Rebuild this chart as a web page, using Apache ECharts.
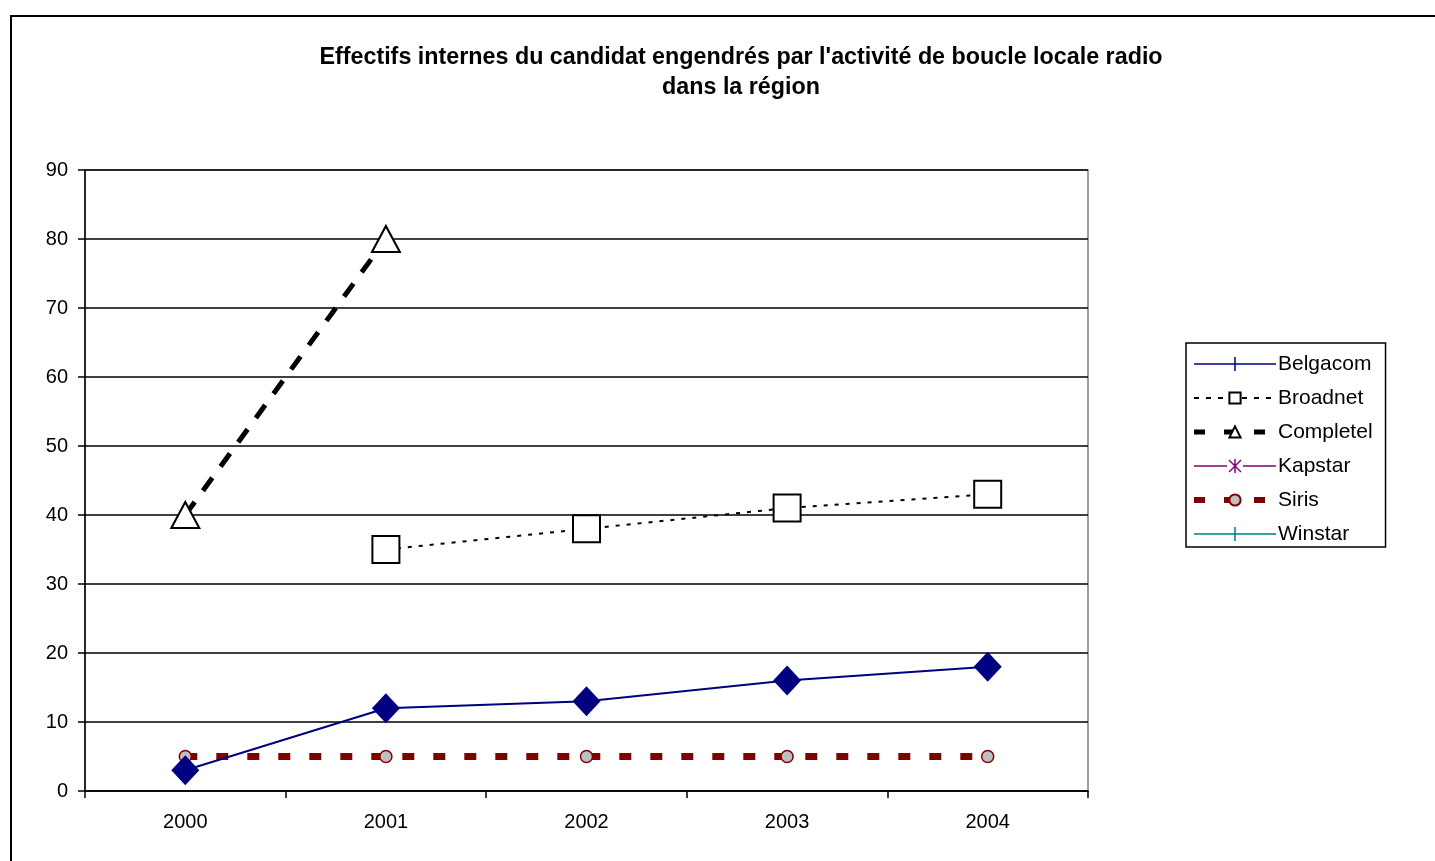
<!DOCTYPE html>
<html><head><meta charset="utf-8">
<script src="https://cdn.jsdelivr.net/npm/echarts@6/dist/echarts.min.js"></script>
<style>
html,body{margin:0;padding:0;background:#fff;overflow:hidden;}
#frame{position:absolute;left:10px;top:15px;width:1440px;height:860px;border:2px solid #000;box-sizing:border-box;}
#chart{position:absolute;left:0;top:0;width:1435px;height:861px;}
</style></head>
<body>
<div id="frame"></div>
<div id="chart"></div>
<script>
const categories = ['2000', '2001', '2002', '2003', '2004'];
const belgacom  = [3, 12, 13, 16, 18];
const broadnet  = [null, 35, 38, 41, 43];
const completel = [40, 80, null, null, null];
const kapstar   = [null, null, null, null, null];
const siris     = [5, 5, 5, 5, 5];
const winstar   = [null, null, null, null, null];
const titleLines = ["Effectifs internes du candidat engendrés par l'activité de boucle locale radio", 'dans la région'];

const FONT = "'Liberation Sans', Arial, sans-serif";
const chart = echarts.init(document.getElementById('chart'), null, {renderer: 'canvas'});

const tickIcon = 'path://M0,6.25H82V7.75H0Z M40.25,0H41.75V14H40.25Z';
const starIcon = 'path://M0,6.25H33V7.75H0Z M49,6.25H82V7.75H49Z M40.25,0H41.75V14H40.25Z M34.5,1.5L35.5,0.5L47.5,12.5L46.5,13.5Z M46.5,0.5L47.5,1.5L35.5,13.5L34.5,12.5Z';

chart.setOption({
  animation: false,
  backgroundColor: 'transparent',
  title: {
    text: titleLines.join('\n'),
    left: 736,
    top: 38,
    textAlign: 'center',
    textStyle: {fontFamily: FONT, fontSize: 23.3, fontWeight: 'bold', color: '#000', lineHeight: 30}
  },
  grid: {left: 85, right: 347, top: 170, bottom: 70, show: true, borderColor: '#808080', borderWidth: 1.5, backgroundColor: 'transparent'},
  legend: {
    orient: 'vertical',
    left: 1186,
    top: 343,
    itemWidth: 82,
    itemHeight: 14,
    itemGap: 10,
    padding: [9, 13, 1, 5],
    borderColor: '#000',
    borderWidth: 1.5,
    textStyle: {fontFamily: FONT, fontSize: 21, color: '#000', lineHeight: 24, padding: [0,0,0,-3]},
    data: [
      {name: 'Belgacom', icon: tickIcon, itemStyle: {color: '#000080', borderWidth: 0}},
      {name: 'Broadnet', lineStyle: {width: 2, type: [5, 7]}},
      {name: 'Completel', lineStyle: {width: 5, type: [11, 19]}},
      {name: 'Kapstar', icon: starIcon, itemStyle: {color: '#800080', borderWidth: 0}},
      {name: 'Siris', lineStyle: {width: 6, type: [11, 19]}},
      {name: 'Winstar', icon: tickIcon, itemStyle: {color: '#008080', borderWidth: 0}}
    ]
  },
  xAxis: {
    type: 'category',
    data: categories,
    boundaryGap: true,
    axisLine: {lineStyle: {color: '#000', width: 1.5}},
    axisTick: {show: true, length: 7, lineStyle: {color: '#000', width: 1.5}},
    axisLabel: {fontFamily: FONT, fontSize: 20, color: '#000', margin: 21},
    splitLine: {show: false}
  },
  yAxis: {
    type: 'value',
    min: 0, max: 90, interval: 10,
    axisLine: {show: true, lineStyle: {color: '#000', width: 1.5}},
    axisTick: {show: true, length: 7, lineStyle: {color: '#000', width: 1.5}},
    axisLabel: {fontFamily: FONT, fontSize: 20, color: '#000', margin: 17},
    splitLine: {show: true, lineStyle: {color: '#000', width: 1.5}}
  },
  series: [
    {
      name: 'Belgacom', type: 'line', data: belgacom, color: '#000080',
      symbol: 'diamond', symbolSize: [28, 30], showAllSymbol: true,
      lineStyle: {color: '#000080', width: 2},
      itemStyle: {color: '#000080'}, z: 5
    },
    {
      name: 'Broadnet', type: 'line', data: broadnet, color: '#000',
      symbol: 'emptyRect', symbolSize: 27,
      lineStyle: {color: '#000', width: 2, type: [4, 7]},
      itemStyle: {color: '#000', borderWidth: 1.5}
    },
    {
      name: 'Completel', type: 'line', data: completel, color: '#000',
      symbol: 'emptyTriangle', symbolSize: [28, 26],
      lineStyle: {color: '#000', width: 5, type: [16, 14]},
      itemStyle: {color: '#000', borderWidth: 1.5}
    },
    {
      name: 'Kapstar', type: 'line', data: kapstar, color: '#800080',
      symbol: 'none', lineStyle: {color: '#800080', width: 1.5}
    },
    {
      name: 'Siris', type: 'line', data: siris, color: '#800000',
      symbol: 'circle', symbolSize: 12,
      lineStyle: {color: '#800000', width: 7, type: [12, 19]},
      itemStyle: {color: '#c0c0c0', borderColor: '#800000', borderWidth: 1.5}, z: 3
    },
    {
      name: 'Winstar', type: 'line', data: winstar, color: '#008080',
      symbol: 'none', lineStyle: {color: '#008080', width: 1.5}
    }
  ]
});
</script>
</body></html>
